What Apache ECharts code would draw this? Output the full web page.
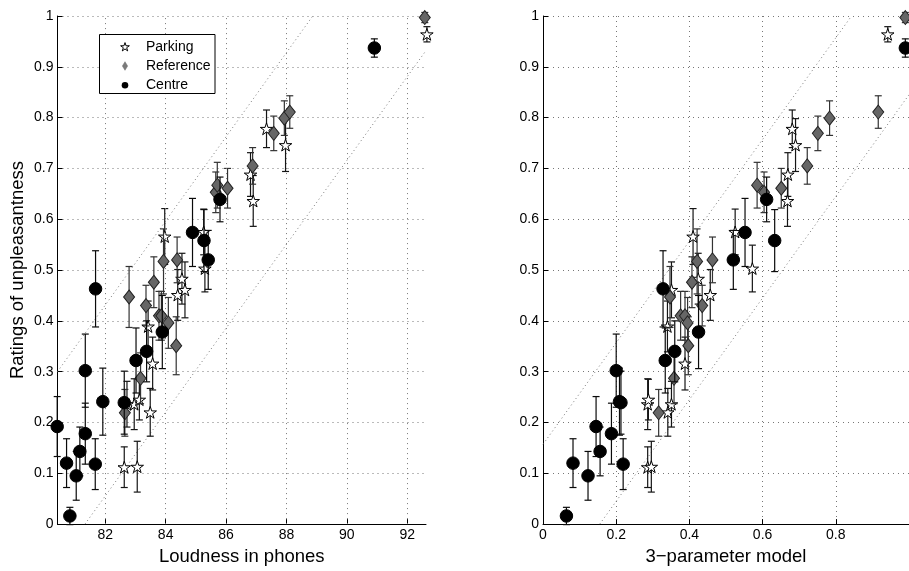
<!DOCTYPE html>
<html>
<head>
<meta charset="utf-8">
<script src="https://cdn.jsdelivr.net/npm/echarts@6/dist/echarts.min.js"></script>
<style>
html,body{margin:0;padding:0;background:#fff;}
#chart{width:909px;height:571px;}
</style>
</head>
<body>
<div id="chart"></div>
<script>
// ---------------- data ----------------
const seriesNames = ['Parking', 'Reference', 'Centre'];

const parkingPhon   = [82.63, 83.06, 82.96, 83.13, 83.49, 82.72, 83.42, 83.57, 84.40, 84.64, 84.54, 83.97, 85.26, 85.30, 86.81, 86.90, 87.34, 87.97, 92.65];
const parkingModel  = [0.286, 0.296, 0.286, 0.288, 0.341, 0.351, 0.340, 0.388, 0.457, 0.351, 0.424, 0.410, 0.525, 0.572, 0.669, 0.668, 0.681, 0.690, 0.942];
const parkingRating = [0.112, 0.113, 0.236, 0.245, 0.220, 0.236, 0.389, 0.316, 0.451, 0.461, 0.483, 0.566, 0.575, 0.503, 0.688, 0.636, 0.778, 0.746, 0.964];
const parkingErr    = [0.040, 0.050, 0.050, 0.040, 0.047, 0.045, 0.050, 0.052, 0.050, 0.055, 0.050, 0.055, 0.045, 0.046, 0.043, 0.050, 0.037, 0.052, 0.015];

const referencePhon   = [82.65, 82.79, 83.17, 83.35, 83.61, 83.78, 83.86, 84.09, 84.35, 83.93, 84.38, 85.66, 85.71, 86.05, 86.88, 87.58, 87.93, 88.11, 92.58];
const referenceModel  = [0.316, 0.347, 0.358, 0.435, 0.407, 0.376, 0.388, 0.395, 0.397, 0.421, 0.463, 0.604, 0.585, 0.651, 0.722, 0.751, 0.783, 0.916, 0.990];
const referenceRating = [0.219, 0.447, 0.287, 0.430, 0.476, 0.410, 0.410, 0.396, 0.351, 0.517, 0.520, 0.653, 0.667, 0.661, 0.705, 0.769, 0.799, 0.811, 0.997];
const referenceErr    = [0.046, 0.060, 0.050, 0.040, 0.050, 0.048, 0.048, 0.050, 0.057, 0.064, 0.045, 0.040, 0.045, 0.039, 0.036, 0.034, 0.034, 0.032, 0.010];

const centrePhon   = [80.41, 80.72, 81.04, 80.83, 81.16, 81.34, 81.34, 81.67, 81.68, 81.92, 82.63, 83.02, 83.37, 83.89, 84.89, 85.27, 85.41, 85.80, 90.91];
const centreModel  = [0.145, 0.082, 0.123, 0.064, 0.156, 0.187, 0.200, 0.219, 0.328, 0.209, 0.213, 0.334, 0.360, 0.425, 0.552, 0.633, 0.520, 0.611, 0.990];
const centreRating = [0.192, 0.120, 0.095, 0.016, 0.143, 0.178, 0.302, 0.118, 0.463, 0.241, 0.239, 0.322, 0.340, 0.378, 0.574, 0.558, 0.520, 0.639, 0.937];
const centreErr    = [0.059, 0.048, 0.048, 0.017, 0.048, 0.060, 0.072, 0.050, 0.075, 0.066, 0.062, 0.064, 0.060, 0.072, 0.067, 0.061, 0.058, 0.044, 0.018];

// dotted band lines [x, y] end points
const leftBandUpper  = [[80.42, 0.300], [88.87, 1.0]];
const leftBandLower  = [[81.33, 0.0], [92.62, 0.932]];
const rightBandUpper = [[0.0, 0.157], [0.843, 1.0]];
const rightBandLower = [[0.155, 0.0], [1.0, 0.845]];

// axis ticks
const leftXTicks  = [82, 84, 86, 88, 90, 92];
const rightXTicks = [0, 0.2, 0.4, 0.6, 0.8];
const yTicks      = [0, 0.1, 0.2, 0.3, 0.4, 0.5, 0.6, 0.7, 0.8, 0.9, 1];

const leftXRange  = [80.42, 92.62];
const rightXRange = [0, 1];

// ---------------- chart ----------------
const FONT = '"Liberation Sans", Arial, Helvetica, sans-serif';
const STAR = 'path://M0,-100L22.45,-30.9L95.1,-30.9L36.3,11.8L58.8,80.9L0,38.2L-58.8,80.9L-36.3,11.8L-95.1,-30.9L-22.45,-30.9Z';
const GRID_STYLE = { color: '#777777', width: 1, type: [1, 4] };

const groups = [
  { name: 'Parking',   phon: parkingPhon,   model: parkingModel,   y: parkingRating,   err: parkingErr,
    symbol: STAR, size: 12.5, fill: '#ffffff', border: '#000000', bar: '#151515' },
  { name: 'Reference', phon: referencePhon, model: referenceModel, y: referenceRating, err: referenceErr,
    symbol: 'diamond', size: [11, 14], fill: '#666666', border: '#222222', bar: '#333333' },
  { name: 'Centre',    phon: centrePhon,    model: centreModel,    y: centreRating,    err: centreErr,
    symbol: 'circle', size: 12.5, fill: '#000000', border: '#000000', bar: '#0a0a0a' }
];

function errRenderer(color) {
  return function (params, api) {
    const x = api.value(0), y = api.value(1), e = api.value(2);
    const t = api.coord([x, y + e]);
    const b = api.coord([x, y - e]);
    const w = 3.5;
    const st = { stroke: color, lineWidth: 1.2, fill: null };
    return {
      type: 'group',
      children: [
        { type: 'line', shape: { x1: t[0], y1: t[1], x2: b[0], y2: b[1] }, style: st },
        { type: 'line', shape: { x1: t[0] - w, y1: t[1], x2: t[0] + w, y2: t[1] }, style: st },
        { type: 'line', shape: { x1: b[0] - w, y1: b[1], x2: b[0] + w, y2: b[1] }, style: st }
      ]
    };
  };
}

const series = [];
// band lines
[[leftBandUpper, 0], [leftBandLower, 0], [rightBandUpper, 1], [rightBandLower, 1]].forEach(function (d, k) {
  const s = {
    type: 'line', xAxisIndex: d[1], yAxisIndex: d[1], data: d[0],
    symbol: 'none', silent: true, animation: false, z: 1,
    lineStyle: { color: '#7a7a7a', width: 1, type: [1, 3] }
  };
  if (k === 0) {
    // vertical grid lines of the left panel at its tick values
    s.markLine = {
      silent: true, symbol: 'none', animation: false, label: { show: false },
      lineStyle: GRID_STYLE,
      data: leftXTicks.map(function (v) { return { xAxis: v }; })
    };
  }
  series.push(s);
});

let z = 2;
groups.forEach(function (g) {
  [0, 1].forEach(function (p) {
    const xs = p === 0 ? g.phon : g.model;
    const data = xs.map(function (x, i) { return [x, g.y[i], g.err[i]]; });
    series.push({
      type: 'custom', name: g.name + '_err' + p, xAxisIndex: p, yAxisIndex: p,
      data: data, renderItem: errRenderer(g.bar), encode: { x: 0, y: 1 },
      silent: true, animation: false, z: z
    });
  });
  z++;
  [0, 1].forEach(function (p) {
    const xs = p === 0 ? g.phon : g.model;
    series.push({
      type: 'scatter', name: g.name, xAxisIndex: p, yAxisIndex: p,
      data: xs.map(function (x, i) { return [x, g.y[i]]; }),
      symbol: g.symbol, symbolSize: g.size, symbolKeepAspect: true, clip: false,
      itemStyle: { color: g.fill, borderColor: g.border, borderWidth: 1, opacity: 1 },
      emphasis: { disabled: true }, silent: true, animation: false, z: z
    });
  });
  z++;
});

function xAxisCfg(idx, range, ticks, name, interval) {
  const cfg = {
    type: 'value', gridIndex: idx, min: range[0], max: range[1],
    name: name, nameLocation: 'middle', nameGap: 21,
    nameTextStyle: { fontFamily: FONT, fontSize: 18.5, color: '#000' },
    axisLine: { show: true, onZero: false, lineStyle: { color: '#000', width: 1 } },
    axisTick: { show: true, inside: true, length: 5, lineStyle: { color: '#000' }, customValues: ticks },
    axisLabel: { fontFamily: FONT, fontSize: 14, color: '#000', margin: 4, customValues: ticks,
                 showMinLabel: true, showMaxLabel: true },
    splitLine: { show: idx === 1, showMinLine: false, showMaxLine: true, lineStyle: GRID_STYLE }
  };
  if (interval) { cfg.interval = interval; } else { cfg.splitNumber = 6; }
  return cfg;
}

function yAxisCfg(idx, name) {
  return {
    type: 'value', gridIndex: idx, min: 0, max: 1, interval: 0.1,
    name: name, nameLocation: 'middle', nameGap: 30,
    nameTextStyle: { fontFamily: FONT, fontSize: 18.5, color: '#000' },
    axisLine: { show: true, onZero: false, lineStyle: { color: '#000', width: 1 } },
    axisTick: { show: true, inside: true, length: 5, lineStyle: { color: '#000' } },
    axisLabel: { fontFamily: FONT, fontSize: 14, color: '#000', margin: 4,
                 formatter: function (v) { return String(Math.round(v * 10) / 10); } },
    splitLine: { show: true, showMinLine: false, lineStyle: GRID_STYLE }
  };
}

// legend drawn as graphic elements
function starPoints(cx, cy, r) {
  const pts = [];
  for (let k = 0; k < 10; k++) {
    const rr = k % 2 === 0 ? r : r * 0.382;
    const a = -Math.PI / 2 + k * Math.PI / 5;
    pts.push([cx + rr * Math.cos(a), cy + rr * Math.sin(a)]);
  }
  return pts;
}
const LX = 99.5, LY = 34.5, LW = 115.5, LH = 59;
const legendRows = [46.7, 66, 85.2];
const graphic = [
  { type: 'rect', shape: { x: LX, y: LY, width: LW, height: LH },
    style: { fill: '#fff', stroke: '#000', lineWidth: 1 }, z: 100 },
  { type: 'polygon', shape: { points: starPoints(125, legendRows[0] + 0.5, 4.6) },
    style: { fill: '#fff', stroke: '#000', lineWidth: 1 }, z: 101 },
  { type: 'polygon', shape: { points: [[125, legendRows[1] - 4.3], [127.6, legendRows[1]], [125, legendRows[1] + 4.3], [122.4, legendRows[1]]] },
    style: { fill: '#7a7a7a', stroke: '#6a6a6a', lineWidth: 0.5 }, z: 101 },
  { type: 'circle', shape: { cx: 125, cy: legendRows[2], r: 3.3 },
    style: { fill: '#000' }, z: 101 }
];
seriesNames.forEach(function (n, i) {
  graphic.push({ type: 'text', x: 146, y: legendRows[i], z: 101,
    style: { text: n, fontFamily: FONT, fontSize: 14, fill: '#000', verticalAlign: 'middle', align: 'left' } });
});

const chart = echarts.init(document.getElementById('chart'), null, { renderer: 'canvas' });
chart.setOption({
  backgroundColor: '#ffffff',
  animation: false,
  grid: [
    { left: 57.5, top: 16, width: 368.5, height: 515, containLabel: false },
    { left: 543, top: 16, width: 369, height: 515, containLabel: false }
  ],
  xAxis: [
    xAxisCfg(0, leftXRange, leftXTicks, 'Loudness in phones', null),
    xAxisCfg(1, rightXRange, rightXTicks, '3\u2212parameter model', 0.2)
  ],
  yAxis: [
    yAxisCfg(0, 'Ratings of unpleasantness'),
    yAxisCfg(1, '')
  ],
  series: series,
  graphic: graphic
});
</script>
</body>
</html>
